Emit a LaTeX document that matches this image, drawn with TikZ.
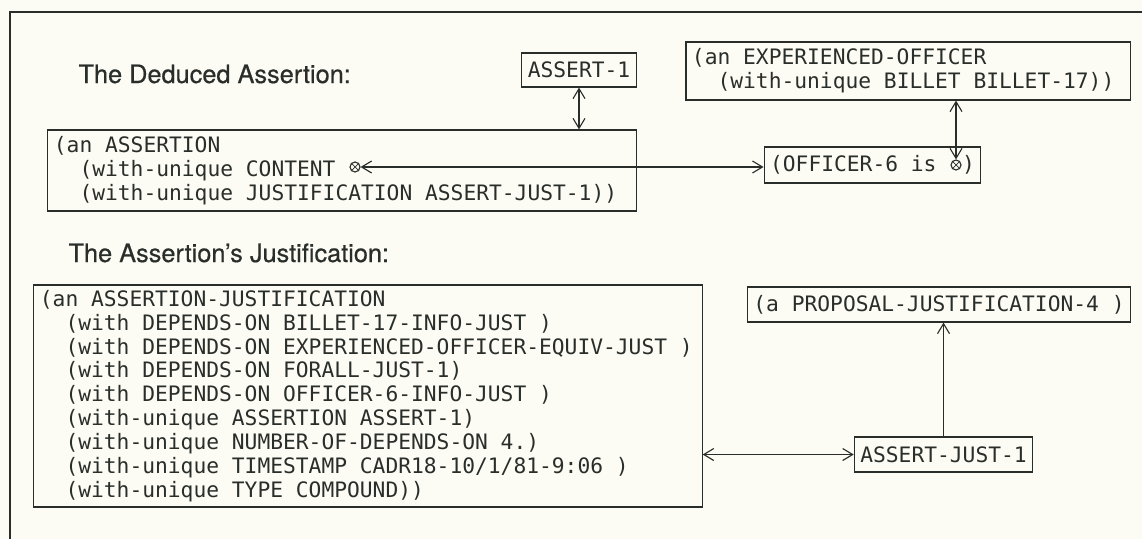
\documentclass[tikz,border=0pt]{standalone}
\usepackage{fontspec}
\setmainfont{TeX Gyre Heros}
\newfontfamily\headfont{TeX Gyre Heros}[FakeBold=0.5, Ligatures=TeX]
\newfontfamily\lispfont{DejaVu Sans Mono}[WordSpace={1,0,0}]
\usetikzlibrary{arrows.meta}
\definecolor{paper}{RGB}{252,252,244}
\definecolor{ink}{RGB}{42,46,42}

\begin{document}
\begin{tikzpicture}[x=0.025cm, y=-0.025cm, color=ink, line width=0.8pt,
    >={Straight Barb[length=0.25cm, width=0.3cm]},
    every node/.style = {shape=rectangle, draw, inner xsep=0.15cm, inner ysep=2pt, align=left,
      font=\lispfont\fontsize{15.12pt}{17pt}\selectfont,
      execute at begin node={\spaceskip=0pt\xspaceskip=0pt}},
    heading/.style = {draw=none, inner sep=0pt, anchor=base west, font=\headfont\fontsize{18pt}{20pt}\selectfont},
    slot/.style = {shape=circle, inner sep=0pt, minimum size=0.25cm,
      path picture={\draw[line width=0.5pt] (path picture bounding box.north west) -- (path picture bounding box.south east)
        (path picture bounding box.south west) -- (path picture bounding box.north east);}}]
    \useasboundingbox (0, 0) rectangle (1142, 539);
    \fill[paper] (0, 0) rectangle (1142, 539);
    \draw[line width=2pt] (10, 539) -- (10, 12) -- (1142, 12);

    \node (deduced) at (78, 83) [heading] {The Deduced Assertion:};
    \node (assertA) at (579, 70) [minimum height=0.85cm] {ASSERT-1};
    \node (assertion) at (342, 170.5) [text width=14.4cm, minimum height=2.025cm]
      {(an ASSERTION\\
       ~~(with-unique CONTENT\\
       ~~(with-unique JUSTIFICATION ASSERT-JUST-1))};
    \node (content) at (355, 167) [slot] {};
    \node (experienced) at (908, 71) [text width=10.8cm, minimum height=1.45cm]
      {(an EXPERIENCED-OFFICER\\
       ~~(with-unique BILLET BILLET-17))};
    \node (officer) at (872.5, 165) [minimum height=0.9cm] {(OFFICER-6 is~~)};
    \node (officerslot) at (956, 165) [slot] {};

    \node (justified) at (68, 262) [heading] {The Assertion's Justification:};
    \node (justif) at (368, 396) [text width=16.4cm, minimum height=5.55cm]
      {(an ASSERTION-JUSTIFICATION\\
       ~~(with DEPENDS-ON BILLET-17-INFO-JUST )\\
       ~~(with DEPENDS-ON EXPERIENCED-OFFICER-EQUIV-JUST )\\
       ~~(with DEPENDS-ON FORALL-JUST-1)\\
       ~~(with DEPENDS-ON OFFICER-6-INFO-JUST )\\
       ~~(with-unique ASSERTION ASSERT-1)\\
       ~~(with-unique NUMBER-OF-DEPENDS-ON 4.)\\
       ~~(with-unique TIMESTAMP CADR18-10/1/81-9:06 )\\
       ~~(with-unique TYPE COMPOUND))};
    \node (proposal) at (939, 304.5) [minimum height=0.875cm] {(a PROPOSAL-JUSTIFICATION-4 )};
    \node (assertjust) at (943.5, 454.5) [minimum height=0.875cm] {ASSERT-JUST-1};

    \draw[<->] (assertA.south) -- (assertA.south |- assertion.north);
    \draw[<->] (content) -- (content -| officer.west);
    \draw[<->] (officerslot) -- (officerslot |- experienced.south);
    \draw[<->] (justif.east |- assertjust) -- (assertjust.west);
    \draw[->] (assertjust.north) -- (assertjust.north |- proposal.south);
\end{tikzpicture}
\end{document}
